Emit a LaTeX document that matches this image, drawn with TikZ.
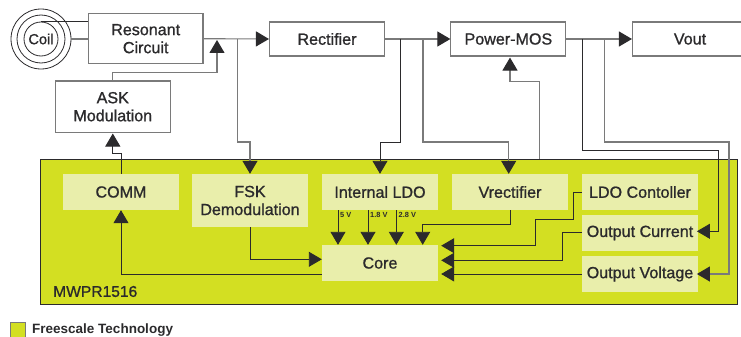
\documentclass[tikz,border=0pt]{standalone}
\usepackage{fontspec}
\setmainfont{Liberation Sans}
\newfontfamily\blockfont[FakeBold=1.0]{Liberation Sans}
\usetikzlibrary{arrows.meta}
\definecolor{chipgreen}{HTML}{D3DF22}
\definecolor{blockgreen}{HTML}{E9EEAB}
\definecolor{inkgrey}{HTML}{2B2A2C}
\definecolor{wiregrey}{HTML}{7A7A7A}
\begin{document}
\begin{tikzpicture}
[x=1pt, y=-1pt,
block/.style={draw=wiregrey, line width=1.1pt, fill=white, text=inkgrey, inner sep=0pt, align=center, font=\blockfont\fontsize{16.1}{18}\selectfont},
inner block/.style={fill=blockgreen, text=inkgrey, inner sep=0pt, align=center, minimum width=116pt, font=\blockfont\fontsize{16.1}{18}\selectfont},
ring/.style={draw=inkgrey, line width=0.8pt, circle, inner sep=0pt},
wire/.style={draw=wiregrey, line width=1.1pt},
dark wire/.style={draw=inkgrey, line width=0.9pt},
flow/.style={wire, -{Triangle[length=13pt,width=15pt,color=inkgrey]}},
dark flow/.style={dark wire, -{Triangle[length=13pt,width=15pt,color=inkgrey]}},
small label/.style={text=inkgrey, inner sep=0pt, font=\fontsize{7.4}{8}\selectfont\bfseries}]
\clip (0,0) rectangle (741,337);
\node[fill=chipgreen, draw=inkgrey, line width=0.9pt, minimum width=697pt, minimum height=145.5pt, inner sep=0pt] (chip) at (388.5,231.7) {};
\node[text=inkgrey, inner sep=0pt, anchor=west, font=\blockfont\fontsize{15.6}{16}\selectfont] (chipname) at (53,291.5) {MWPR1516};
% top row
\node[ring, minimum size=60pt] (coilouter) at (41,39) {};
\node[ring, minimum size=48pt] (coilmid) at (41,39) {};
\node[ring, minimum size=34pt, text=inkgrey, font=\blockfont\fontsize{14.6}{16}\selectfont] (coil) at (41,39) {Coil};
\node[block, minimum width=114.5pt, minimum height=50.5pt] (resonant) at (145.7,38.7) {Resonant\\Circuit};
\node[block, minimum width=114.5pt, minimum height=51.5pt] (ask) at (112.8,106.7) {ASK\\Modulation};
\node[block, minimum width=115pt, minimum height=34pt] (rectifier) at (327,39) {Rectifier};
\node[block, minimum width=115pt, minimum height=34pt] (powermos) at (508.4,39) {Power-MOS};
\node[block, minimum width=115pt, minimum height=34pt] (vout) at (690,39) {Vout};
% blocks in the chip
\node[inner block, minimum height=36pt] (comm) at (121,192) {COMM};
\node[inner block, minimum height=53pt] (fsk) at (250,200.5) {FSK\\Demodulation};
\node[inner block, minimum height=36pt] (ldo) at (380,192) {Internal LDO};
\node[inner block, minimum height=36pt] (vrect) at (510,192) {Vrectifier};
\node[inner block, minimum height=36pt] (ldoctl) at (640,192) {LDO Contoller};
\node[inner block, minimum height=36pt] (outcur) at (640,233) {Output Current};
\node[inner block, minimum height=36pt] (outvolt) at (640,274) {Output Voltage};
\node[inner block, minimum height=36pt] (core) at (380,263) {Core};
% taps on the main line
\coordinate (tapa) at (237.5,39);
\coordinate (tapb) at (400.3,39);
\coordinate (tapc) at (423,39);
\coordinate (tapd) at (582.7,39);
\coordinate (tape) at (604.7,39);
\coordinate (asktip) at (217,40);
% coil
\draw[dark wire] (coil.north) -- (coil.north -| resonant.west);
\draw[wire] (coilouter.east) -- (coilouter.east -| resonant.west);
% main line
\draw[flow] (resonant.east) -- (rectifier.west);
\draw[flow] (rectifier.east) -- (powermos.west);
\draw[flow] (powermos.east) -- (vout.west);
\draw[flow] (ask.north) -- ++(0,-7.5) -| (asktip);
\draw[dark flow] (comm.north) -- ++(0,-20.5) -| ([yshift=-0.5pt]ask.south);
\draw[flow] (tapa) -- ++(0,103) -| (fsk.north);
\draw[dark flow] (tapb) -- ++(0,103) -| (ldo.north);
\draw[flow] (tapc) -- ++(0,103) -| ([xshift=-1.3pt]vrect.north);
\draw[flow] (chip.north -| 539.7,0) -- ++(0,-77) -| ([xshift=1.6pt,yshift=-1pt]powermos.south);
\draw[dark flow] (tapd) -- ++(0,111) -| (718,231.3) -- ([xshift=-1.3pt]outcur.east |- 0,231.3);
\draw[flow] (tape) -- ++(0,103) -| (729,274) -- ([xshift=-1.3pt]outvolt.east);
% inside the chip
\draw[dark flow] (ldo.south -| 338,0) -- (core.north -| 338,0);
\draw[dark flow] (ldo.south -| 368,0) -- (core.north -| 368,0);
\draw[dark flow] (ldo.south -| 396.3,0) -- (core.north -| 396.3,0);
\node[small label, anchor=west] (fivev) at (340,215) {5 V};
\node[small label, anchor=west] (oneeight) at (370,215) {1.8 V};
\node[small label, anchor=west] (twoeight) at (398.5,215) {2.8 V};
\draw[dark flow] (vrect.south) -- ++(0,14) -| (core.north -| 422.7,0);
\draw[dark flow] (fsk.south) |- ([yshift=3.7pt]core.west);
\draw[dark flow] ([yshift=-11.3pt]core.west) -| (comm.south);
\draw[dark flow] (ldoctl.west) -- ++(-8.7,0) |- (535,219.3) |- ([xshift=3pt,yshift=17.3pt]core.east);
\draw[dark flow] ([yshift=0.3pt]outcur.west) -- ++(-19.7,0) |- ([xshift=3pt,yshift=2.7pt]core.east);
\draw[dark flow] (outvolt.west) -- ([xshift=3pt,yshift=-11pt]core.east);
% legend
\node[fill=chipgreen, draw=wiregrey, line width=1pt, minimum size=15pt, inner sep=0pt] (legendbox) at (17.7,330) {};
\node[text=inkgrey, inner sep=0pt, anchor=west, font=\fontsize{13.5}{15}\selectfont\bfseries] (legendname) at (32,330) {Freescale Technology};
\end{tikzpicture}
\end{document}
